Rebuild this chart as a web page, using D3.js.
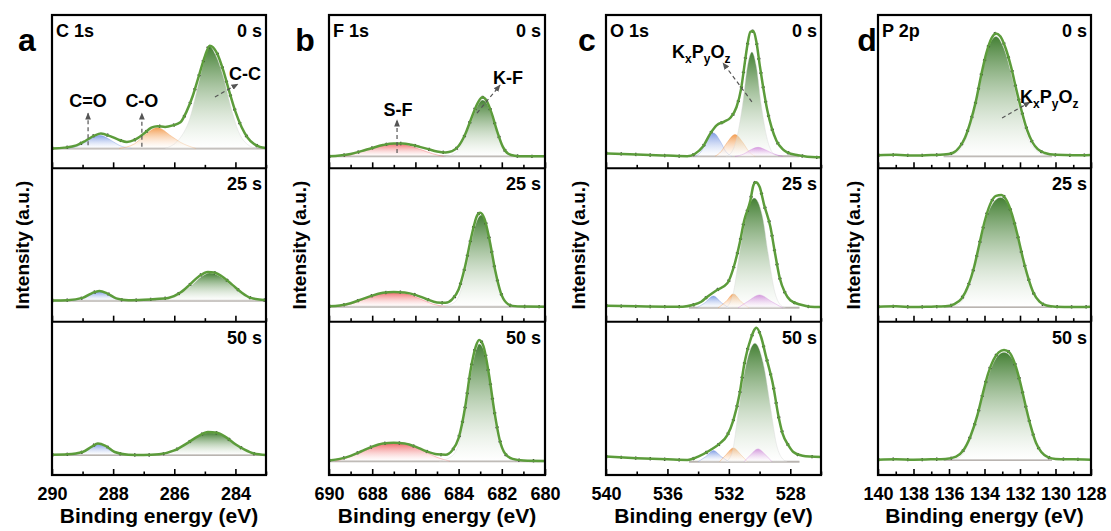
<!DOCTYPE html>
<html>
<head>
<meta charset="utf-8">
<script src="https://cdn.jsdelivr.net/npm/d3@7"></script>
<style>
  body { margin: 0; background: #fff; }
  svg { display: block; }
  text { font-family: "Liberation Sans", Arial, sans-serif; font-weight: bold; fill: #000; }
</style>
</head>
<body>
<svg id="chart"></svg>
<script>
// ---- data: [binding energy (eV), intensity (a.u., 0..100 per sub-plot)] ----
var timeLabels = ["0 s", "25 s", "50 s"];

// C 1s
var c1s_env_0 = [[290,13],[289.6,13.5],[289.2,15],[288.9,18],[288.6,21.5],[288.4,22.7],[288.1,21],[287.8,18.5],[287.55,17.2],[287.3,18.5],[287.0,22.5],[286.75,26.5],[286.55,27.5],[286.3,27],[286.05,28],[285.8,30],[285.6,37],[285.4,47],[285.2,60],[285.0,73],[284.84,80],[284.6,75],[284.4,64],[284.2,50],[284.0,37],[283.8,27],[283.6,20],[283.4,16],[283.2,14],[283.0,13.3]];
var c1s_co2_0 = [[289.5,13],[289.1,15],[288.85,18],[288.45,21.5],[288.05,18],[287.8,15],[287.4,13]];
var c1s_co_0 = [[287.8,13],[287.3,16],[287.0,21],[286.55,26.5],[286.1,21],[285.8,17],[285.3,13]];
var c1s_cc_0 = [[286.3,13],[285.8,20],[285.5,32],[285.2,56],[285.0,72],[284.84,79.5],[284.65,74],[284.4,60],[284.15,40],[283.9,24],[283.6,15.5],[283.3,13]];
var c1s_env_25 = [[290,13.8],[289.5,14],[289.0,15.5],[288.7,18.5],[288.45,20],[288.2,18.5],[287.9,15.2],[287.5,14],[287.0,14.3],[286.6,14.8],[286.2,15.5],[285.8,19],[285.5,24],[285.2,29.5],[284.9,32.4],[284.7,32],[284.4,29],[284.1,24],[283.8,19],[283.5,15.5],[283.0,14]];
var c1s_co2_25 = [[289.3,13.7],[288.9,16],[288.45,19.5],[288.0,16],[287.6,13.7]];
var c1s_cc_25 = [[286.6,13.7],[286.0,16],[285.5,22.5],[285.1,29.5],[284.85,31.8],[284.5,29.5],[284.1,23],[283.7,17],[283.2,14]];
var c1s_env_50 = [[290,13.2],[289.5,13.5],[289.0,15],[288.7,18.5],[288.5,20.5],[288.25,19],[287.95,15],[287.5,13.2],[287.0,13],[286.5,13.5],[286.0,16],[285.6,20.5],[285.2,25.5],[284.9,28],[284.6,27.5],[284.3,24.5],[284.0,20],[283.7,16.5],[283.4,14],[283.0,13]];
var c1s_co2_50 = [[289.3,13],[288.9,16],[288.5,20],[288.1,16],[287.7,13]];
var c1s_cc_50 = [[286.6,13],[286.0,15.8],[285.6,20.2],[285.2,25.2],[284.9,27.6],[284.6,27.2],[284.3,24.2],[284.0,19.8],[283.6,15.5],[283.1,13]];
var c1s_base = [13, 13.7, 13];

// F 1s
var f1s_env_0 = [[690,7.8],[689.5,8.3],[689.0,9.3],[688.5,11.2],[688.0,13.3],[687.5,15.2],[687.0,16.2],[686.6,16.2],[686.2,15.4],[685.8,14],[685.4,12.5],[685.0,11],[684.6,10.4],[684.3,11.2],[684.0,14.5],[683.7,22],[683.4,33],[683.1,43],[682.9,46.3],[682.7,44],[682.45,35],[682.2,23.5],[681.95,14],[681.7,9.5],[681.4,8.2],[681.0,7.8],[680.5,7.8],[680,7.8]];
var f1s_sf_0 = [[689.3,7.8],[688.8,9.5],[688.2,12.5],[687.6,15],[687.0,16],[686.4,15],[685.8,12.5],[685.2,9.5],[684.7,7.8]];
var f1s_kf_0 = [[684.6,7.8],[684.1,10.5],[683.7,20],[683.4,31],[683.1,41.5],[682.9,44.5],[682.7,42.5],[682.45,33.5],[682.2,22],[681.95,13],[681.6,8.6],[681.3,7.8]];
var f1s_env_25 = [[690,10],[689.5,10.6],[689,12],[688.5,14.5],[688,17],[687.5,18.8],[687.0,19.4],[686.5,19],[686,17.5],[685.5,14.8],[685.0,12.5],[684.6,12.3],[684.3,14.5],[684.0,21],[683.7,36],[683.4,56],[683.15,69],[683.0,71],[682.8,67],[682.55,52],[682.3,33],[682.05,19],[681.8,12.5],[681.5,10.3],[681,9.9],[680,9.8]];
var f1s_sf_25 = [[689.6,9.8],[689,11.5],[688.3,15],[687.7,18],[687.1,19],[686.4,18],[685.8,15],[685.2,11.5],[684.6,9.8]];
var f1s_kf_25 = [[684.8,9.8],[684.2,12.5],[683.9,20],[683.6,38],[683.35,56],[683.1,67.5],[682.95,69.5],[682.75,65],[682.5,50],[682.25,31],[682.0,18],[681.7,11.5],[681.3,9.8]];
var f1s_env_50 = [[690,9.5],[689.5,10.5],[689,12.5],[688.5,15.5],[688,18.5],[687.5,20.5],[687.0,21],[686.5,20.5],[686,18.5],[685.5,15.5],[685.0,13.5],[684.6,13.2],[684.3,16],[684.0,24],[683.7,44],[683.45,68],[683.2,84],[683.05,88],[682.85,84],[682.6,66],[682.35,42],[682.1,23],[681.85,14],[681.5,10.5],[681,9.5],[680,9.2]];
var f1s_sf_50 = [[689.7,9],[689.1,11.5],[688.4,15.5],[687.7,19.5],[687.0,20.5],[686.3,19.3],[685.6,15.5],[685.0,11.5],[684.4,9]];
var f1s_kf_50 = [[684.9,9],[684.3,12.5],[684.0,20],[683.7,40],[683.45,64],[683.2,81],[683.05,85.5],[682.85,82],[682.6,64],[682.35,40],[682.1,21.5],[681.8,12.5],[681.4,9]];
var f1s_base = [7.8, 9.8, 9];

// O 1s
var o1s_env_0 = [[540,9.8],[538,9],[536,8.3],[534.7,7.9],[534.2,9.5],[533.7,14],[533.2,22.8],[532.8,28],[532.3,30.5],[531.9,33],[531.5,40],[531.2,52],[531.0,66],[530.8,80],[530.6,89],[530.4,89.5],[530.2,82],[530.0,68],[529.8,55],[529.5,38],[529.2,26],[528.9,18],[528.5,12.5],[528.2,10.4],[527.5,8.5],[526.3,7.2],[526,7.2]];
var o1s_kpo_0 = [[532.2,7.8],[531.9,9.5],[531.5,19],[531.1,42],[530.8,66],[530.5,75.8],[530.2,66],[529.9,42],[529.5,19],[529.1,9.5],[528.8,7.8]];
var o1s_b_0 = [[534.2,7.8],[533.8,11],[533.45,17.5],[533.0,23],[532.55,17.5],[532.2,11],[531.8,7.8]];
var o1s_o_0 = [[532.9,7.8],[532.5,11],[532.1,17],[531.6,22],[531.1,17],[530.7,11],[530.3,7.8]];
var o1s_p_0 = [[531.6,7.8],[531.0,9.5],[530.6,12],[530.1,13.7],[529.6,12],[529.1,9.5],[528.5,7.8]];
var o1s_env_25 = [[540,10.4],[538,10],[536,9.8],[535,9.8],[534.3,11],[533.8,13],[533.4,16.3],[532.8,20.5],[532.1,25],[531.7,35],[531.3,51],[531.0,66],[530.6,79],[530.4,89],[530.25,91],[530.0,88],[529.7,76],[529.3,62],[529.0,45],[528.7,29],[528.35,19],[528.0,14],[527.3,11],[526.7,9.8],[526,9.6]];
var o1s_kpo_25 = [[532.2,9],[531.75,17],[531.3,45],[530.9,68],[530.35,80.6],[529.8,68],[529.45,45],[529.0,19],[528.6,10.5],[528.3,9]];
var o1s_b_25 = [[534.1,9],[533.6,12],[533.0,16.7],[532.5,12.5],[532.0,9]];
var o1s_o_25 = [[532.7,9],[532.2,13],[531.7,18],[531.2,13],[530.7,9]];
var o1s_p_25 = [[531.4,9],[530.8,13],[530.0,17.4],[529.2,13],[528.5,9]];
var o1s_env_50 = [[540,12],[538,11],[536,10.2],[534.7,9.8],[534,12],[533.2,16.3],[532.6,20.5],[532.1,26],[531.7,36],[531.3,53],[531.0,72],[530.6,88],[530.2,96],[529.9,90],[529.6,78],[529.1,57.6],[528.8,40],[528.5,27],[528.1,19],[527.8,15],[527.2,12.5],[526.7,12],[526,11.8]];
var o1s_kpo_50 = [[532.2,8.7],[531.8,14],[531.4,40],[531.0,66],[530.3,86],[529.7,70],[529.3,45],[528.9,20],[528.5,10.5],[528.2,8.7]];
var o1s_b_50 = [[534.0,8.7],[533.5,12],[533.0,15.9],[532.5,12],[532.0,8.7]];
var o1s_o_50 = [[532.6,8.7],[532.2,13],[531.7,17.6],[531.2,13],[530.8,8.7]];
var o1s_p_50 = [[531.0,8.7],[530.6,13],[530.1,17],[529.6,13],[529.2,8.7]];
var o1s_base = [7.8, 9, 8.7];

// P 2p
var p2p_env_0 = [[140,8.5],[139,8.8],[138,8.3],[137,8.7],[136.3,9],[135.8,10],[135.4,14],[135.1,20],[134.8,30],[134.5,43],[134.2,60],[133.9,75],[133.6,85],[133.35,88],[133.1,86],[132.8,78],[132.5,66],[132.2,51],[131.9,37],[131.6,25],[131.3,17],[131.0,12.5],[130.6,10],[130,8.8],[129,8.5],[128,8.7]];
var p2p_kpo_0 = [[136.3,7.8],[135.6,10],[135.1,18],[134.6,36],[134.2,58],[133.8,78],[133.35,86],[132.9,78],[132.5,62],[132.1,42],[131.7,24],[131.2,13],[130.6,8.8],[130.0,7.8]];
var p2p_env_25 = [[140,9.8],[139,10],[138,9.6],[137,9.8],[136.2,10],[135.7,11.5],[135.3,15],[134.9,24],[134.6,35],[134.3,50],[134.0,65],[133.7,76],[133.35,82],[133.05,82.6],[132.75,79],[132.45,70],[132.15,57],[131.85,42],[131.55,29],[131.25,19],[130.9,13],[130.5,10.5],[130,9.8],[129,9.6],[128,9.8]];
var p2p_kpo_25 = [[136.2,9.6],[135.5,11],[135.0,19],[134.6,33],[134.2,53],[133.8,71],[133.1,81],[132.6,75],[132.2,60],[131.8,40],[131.4,24],[130.9,13.5],[130.3,9.6]];
var p2p_env_50 = [[140,10],[139,10.3],[138,10],[137,10.2],[136.2,10.5],[135.6,12],[135.2,16],[134.8,25],[134.4,39],[134.1,53],[133.8,66],[133.5,75],[133.2,80],[132.9,81.5],[132.6,80],[132.3,73],[132.0,61],[131.7,46],[131.4,32],[131.1,21],[130.8,15],[130.4,11.5],[130,10.5],[129,10.2],[128,10]];
var p2p_kpo_50 = [[136.2,9.8],[135.5,11],[135.0,18],[134.5,35],[134.0,56],[133.5,73],[132.9,80],[132.4,75],[131.9,57],[131.4,31],[130.9,16],[130.3,10.3],[129.8,9.8]];
var p2p_base = [7.8, 9.6, 9.8];

// axis ticks
var c1s_major = [290, 288, 286, 284], c1s_minor = [289, 287, 285, 283];
var f1s_major = [690, 688, 686, 684, 682, 680], f1s_minor = [689, 687, 685, 683, 681];
var o1s_major = [540, 536, 532, 528], o1s_minor = [538, 534, 530, 526];
var p2p_major = [140, 138, 136, 134, 132, 130, 128], p2p_minor = [139, 137, 135, 133, 131, 129];

// ---- layout ----
var W = 1111, H = 531;
var top0 = 15, bot0 = 475, subH = (bot0 - top0) / 3;

var panels = [
  { letter: "a", el: "C 1s", domain: [290, 283], x0: 52, x1: 266, lx: 27, ytx: 22,
    major: c1s_major, minor: c1s_minor, base: c1s_base, baseSpan: null,
    subs: [
      { env: c1s_env_0, comps: [[c1s_co2_0, "blue"], [c1s_co_0, "orange"], [c1s_cc_0, "green"]] },
      { env: c1s_env_25, comps: [[c1s_co2_25, "blue"], [c1s_cc_25, "green"]] },
      { env: c1s_env_50, comps: [[c1s_co2_50, "blue"], [c1s_cc_50, "green"]] }
    ] },
  { letter: "b", el: "F 1s", domain: [690, 680], x0: 329, x1: 545, lx: 305, ytx: 299,
    major: f1s_major, minor: f1s_minor, base: f1s_base, baseSpan: null,
    subs: [
      { env: f1s_env_0, comps: [[f1s_sf_0, "red"], [f1s_kf_0, "green"]] },
      { env: f1s_env_25, comps: [[f1s_sf_25, "red"], [f1s_kf_25, "green"]] },
      { env: f1s_env_50, comps: [[f1s_sf_50, "red"], [f1s_kf_50, "green"]] }
    ] },
  { letter: "c", el: "O 1s", domain: [540, 526], x0: 606, x1: 821, lx: 587, ytx: 578,
    major: o1s_major, minor: o1s_minor, base: o1s_base, baseSpan: [534.6, 527.4],
    subs: [
      { env: o1s_env_0, comps: [[o1s_b_0, "blue"], [o1s_o_0, "orange"], [o1s_p_0, "purple"], [o1s_kpo_0, "green"]] },
      { env: o1s_env_25, comps: [[o1s_b_25, "blue"], [o1s_o_25, "orange"], [o1s_p_25, "purple"], [o1s_kpo_25, "green"]] },
      { env: o1s_env_50, comps: [[o1s_b_50, "blue"], [o1s_o_50, "orange"], [o1s_p_50, "purple"], [o1s_kpo_50, "green"]] }
    ] },
  { letter: "d", el: "P 2p", domain: [140, 128], x0: 878, x1: 1091, lx: 867, ytx: 853,
    major: p2p_major, minor: p2p_minor, base: p2p_base, baseSpan: [136.3, 130.2],
    subs: [
      { env: p2p_env_0, comps: [[p2p_kpo_0, "green"]] },
      { env: p2p_env_25, comps: [[p2p_kpo_25, "green"]] },
      { env: p2p_env_50, comps: [[p2p_kpo_50, "green"]] }
    ] }
];

// peak labels with dashed arrows (energy, intensity of the top sub-plot)
var notes = [
  { p: 0, text: ["C=O"], tx: 288.82, ty: 40, from: [288.82, 15], to: [288.82, 36], anchor: "middle" },
  { p: 0, text: ["C-O"], tx: 287.06, ty: 40, from: [287.06, 14], to: [287.06, 36], anchor: "middle" },
  { p: 0, text: ["C-C"], tx: 283.69, ty: 57.6, from: [284.67, 46.5], to: [283.92, 55], anchor: "middle" },
  { p: 1, text: ["S-F"], tx: 686.81, ty: 34, from: [686.85, 10], to: [686.85, 31.5], anchor: "middle" },
  { p: 1, text: ["K-F"], tx: 681.71, ty: 55, from: [683.15, 36], to: [682.08, 54.3], anchor: "middle" },
  { p: 2, text: ["K", "x", "P", "y", "O", "z"], tx: 535.7, ty: 72, from: [530.5, 43.4], to: [532.38, 68.7], anchor: "start" },
  { p: 3, text: ["K", "x", "P", "y", "O", "z"], tx: 132.0, ty: 42.6, from: [133.01, 32.8], to: [131.44, 43.2], anchor: "start" }
];

var colors = { green: "#3b7a2a", blue: "#7d9be3", orange: "#f3994a", purple: "#c04fd2", red: "#f06767" };
var envColor = "#5c9c3b";

var svg = d3.select("#chart").attr("width", W).attr("height", H);
var defs = svg.append("defs");

Object.keys(colors).forEach(function (k) {
  var g = defs.append("linearGradient").attr("id", "g-" + k)
    .attr("x1", 0).attr("y1", 0).attr("x2", 0).attr("y2", 1);
  g.append("stop").attr("offset", "0%").attr("stop-color", colors[k]).attr("stop-opacity", 0.95);
  g.append("stop").attr("offset", "100%").attr("stop-color", "#ffffff").attr("stop-opacity", 0.35);
});

defs.append("marker").attr("id", "arr").attr("viewBox", "0 0 10 10")
  .attr("refX", 9).attr("refY", 5).attr("markerWidth", 6).attr("markerHeight", 6)
  .attr("orient", "auto")
  .append("path").attr("d", "M0,1L10,5L0,9z").attr("fill", "#555");

panels.forEach(function (p, pi) {
  var x = d3.scaleLinear().domain(p.domain).range([p.x0, p.x1]);
  var g = svg.append("g");

  p.subs.forEach(function (s, si) {
    var yTop = top0 + si * subH, yBot = top0 + (si + 1) * subH;
    var y = d3.scaleLinear().domain([0, 100]).range([yBot, yTop]);
    var base = p.base[si];

    var clipId = "clip-" + pi + "-" + si;
    defs.append("clipPath").attr("id", clipId)
      .append("rect").attr("x", p.x0).attr("y", yTop).attr("width", p.x1 - p.x0).attr("height", subH);
    var sg = g.append("g").attr("clip-path", "url(#" + clipId + ")");

    // fitted components
    var area = d3.area()
      .x(function (d) { return x(d[0]); })
      .y0(y(base))
      .y1(function (d) { return y(d[1]); })
      .curve(d3.curveMonotoneX);
    var line = d3.line()
      .x(function (d) { return x(d[0]); })
      .y(function (d) { return y(d[1]); })
      .curve(d3.curveMonotoneX);

    // background line
    var span = p.baseSpan || p.domain;
    sg.append("path")
      .attr("d", line([[span[0], base], [span[1], base]]))
      .attr("stroke", "#b9b4b0").attr("stroke-width", 2).attr("fill", "none");

    s.comps.forEach(function (c) {
      sg.append("path").attr("d", area(c[0]))
        .attr("fill", "url(#g-" + c[1] + ")");
      sg.append("path").attr("d", line(c[0]))
        .attr("fill", "none").attr("stroke", c[1] == "green" ? "#d8d8d8" : colors[c[1]])
        .attr("stroke-opacity", 0.5).attr("stroke-width", 0.8);
    });

    // raw data specks + fitted envelope
    sg.append("path").attr("d", line(s.env))
      .attr("fill", "none").attr("stroke", "#3a3a3a").attr("stroke-width", 3.3)
      .attr("stroke-dasharray", "1.5,13");
    sg.append("path").attr("d", line(s.env))
      .attr("fill", "none").attr("stroke", envColor).attr("stroke-width", 2.5);

    // ticks (inward) on every sub-plot bottom
    var axMajor = d3.axisBottom(x).tickValues(p.major).tickSizeInner(-6).tickSizeOuter(0)
      .tickPadding(12).tickFormat(si == 2 ? d3.format("d") : "");
    var axMinor = d3.axisBottom(x).tickValues(p.minor).tickSizeInner(-3.5).tickSizeOuter(0)
      .tickFormat("");
    var ga = g.append("g").attr("transform", "translate(0," + yBot + ")").call(axMajor);
    var gm = g.append("g").attr("transform", "translate(0," + yBot + ")").call(axMinor);
    [ga, gm].forEach(function (a) {
      a.select(".domain").remove();
      a.selectAll(".tick line").attr("stroke", "#000").attr("stroke-width", 1.6);
    });
    ga.selectAll(".tick text").attr("font-size", 18).attr("font-family", "Liberation Sans, Arial, sans-serif")
      .attr("font-weight", "bold").attr("fill", "#000");

    // sub-plot divider
    if (si < 2) {
      g.append("line").attr("x1", p.x0).attr("x2", p.x1).attr("y1", yBot).attr("y2", yBot)
        .attr("stroke", "#000").attr("stroke-width", 2);
    }

    g.append("text").attr("x", p.x1 - 4).attr("y", yTop + 22)
      .attr("text-anchor", "end").attr("font-size", 18).text(timeLabels[si]);
    if (si == 0) {
      g.append("text").attr("x", p.x0 + 4).attr("y", yTop + 22)
        .attr("font-size", 18).text(p.el);
    }

    if (si == 0) {
      notes.filter(function (n) { return n.p == pi; }).forEach(function (n) {
        g.append("line")
          .attr("x1", x(n.from[0])).attr("y1", y(n.from[1]))
          .attr("x2", x(n.to[0])).attr("y2", y(n.to[1]))
          .attr("stroke", "#555").attr("stroke-width", 1.2)
          .attr("stroke-dasharray", "4,3").attr("marker-end", "url(#arr)");
        var t = g.append("text").attr("x", x(n.tx)).attr("y", y(n.ty))
          .attr("text-anchor", n.anchor).attr("font-size", 18);
        if (n.text.length == 1) {
          t.text(n.text[0]);
        } else {
          n.text.forEach(function (s, k) {
            var ts = t.append("tspan").text(s);
            if (k % 2 == 1) ts.attr("font-size", 12).attr("dy", 5);
            else if (k > 0) ts.attr("dy", -5);
          });
        }
      });
    }
  });

  // outer frame
  g.append("rect").attr("x", p.x0).attr("y", top0).attr("width", p.x1 - p.x0).attr("height", bot0 - top0)
    .attr("fill", "none").attr("stroke", "#000").attr("stroke-width", 2.2);

  // panel letter, axis titles
  svg.append("text").attr("x", p.lx).attr("y", 51).attr("text-anchor", "middle")
    .attr("font-size", 32).text(p.letter);
  svg.append("text").attr("transform", "translate(" + p.ytx + "," + ((top0 + bot0) / 2) + ") rotate(-90)")
    .attr("text-anchor", "middle").attr("dy", "0.35em").attr("font-size", 19).text("Intensity (a.u.)");
  svg.append("text").attr("x", (p.x0 + p.x1) / 2).attr("y", 523).attr("text-anchor", "middle")
    .attr("font-size", 21).text("Binding energy (eV)");
});
</script>
</body>
</html>
